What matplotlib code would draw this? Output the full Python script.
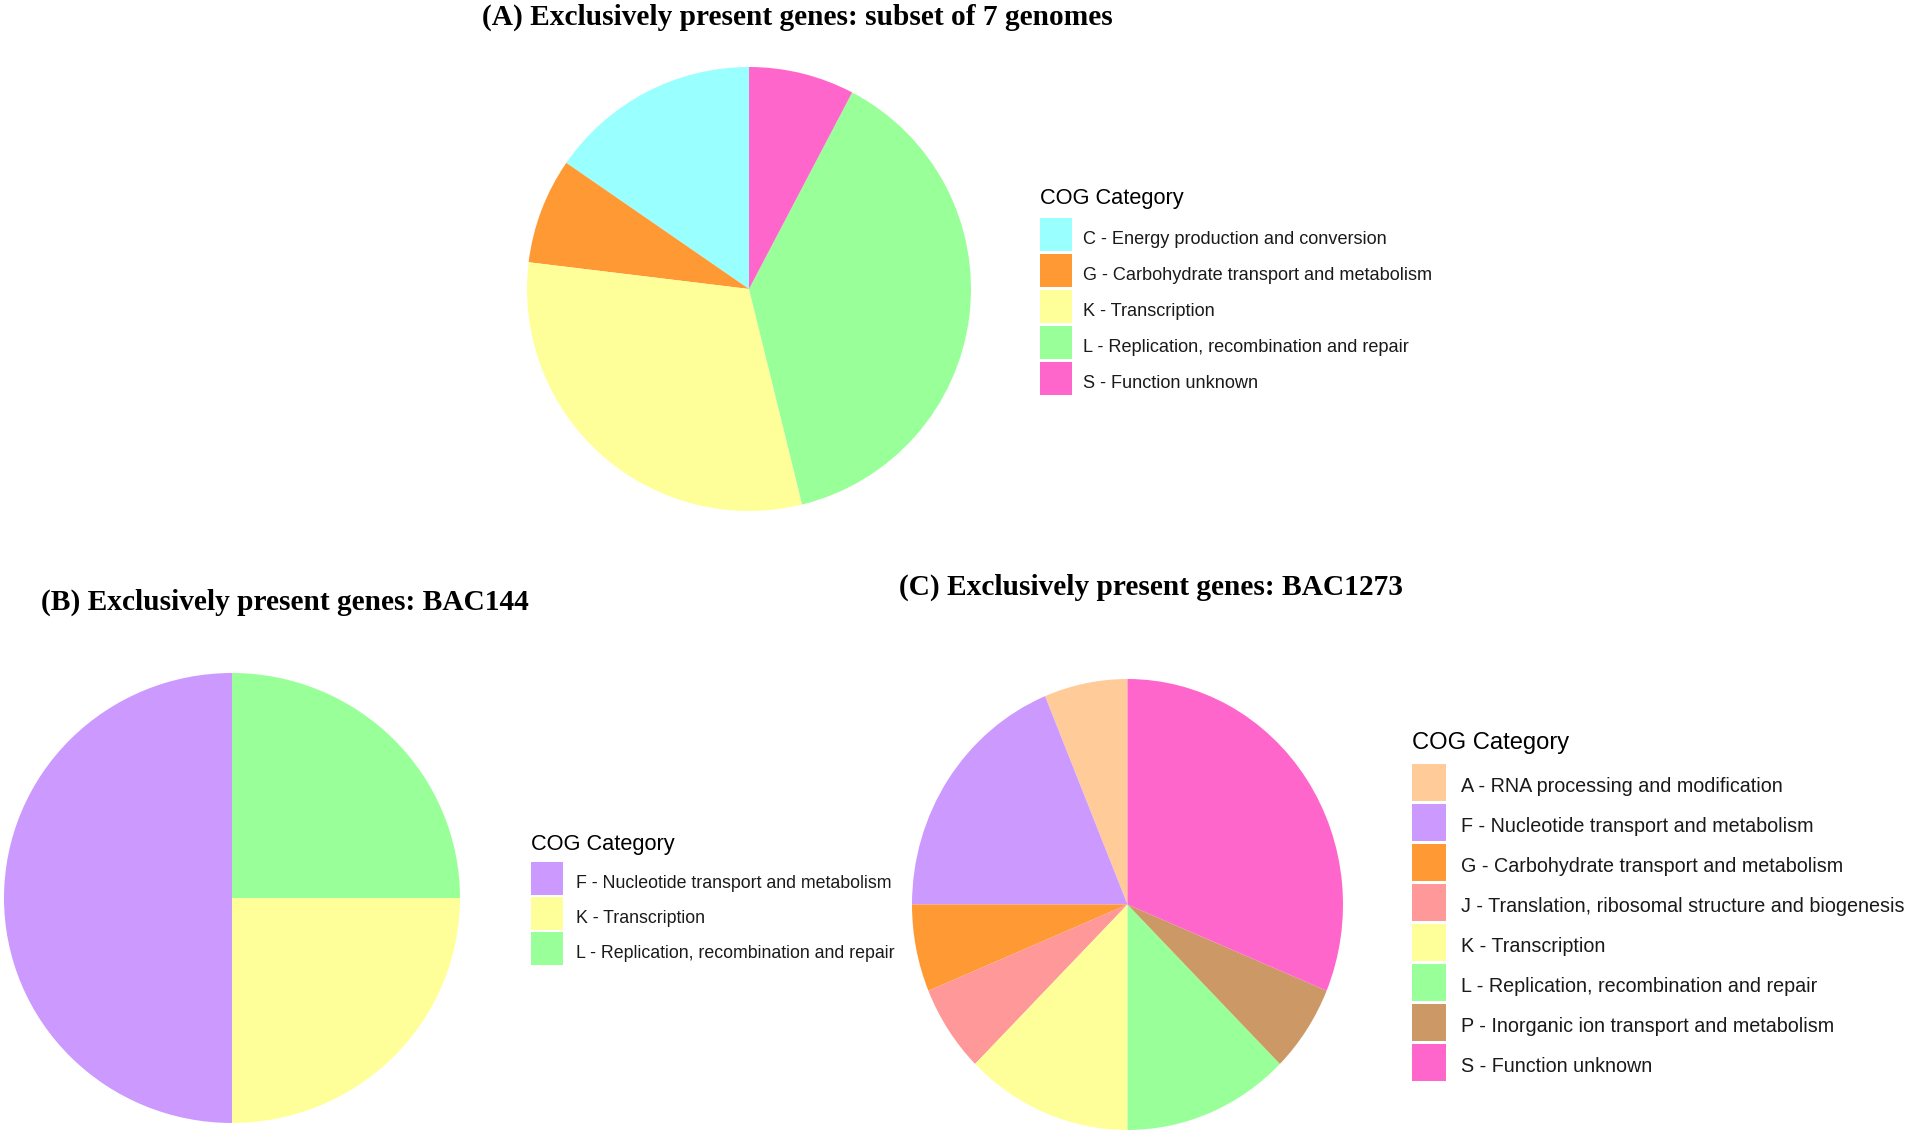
import matplotlib
matplotlib.use('Agg')
import matplotlib.pyplot as plt
from matplotlib.patches import Patch, Rectangle
from matplotlib.legend_handler import HandlerPatch

W, H = 1907, 1132
DPI = 100

# ---- data (gene counts per COG category) ----
cats_a = ['C - Energy production and conversion',
          'G - Carbohydrate transport and metabolism',
          'K - Transcription',
          'L - Replication, recombination and repair',
          'S - Function unknown']
vals_a = [2, 1, 4, 5, 1]
cols_a = ['#99FFFF', '#FF9933', '#FFFF99', '#99FF99', '#FF66CC']

cats_b = ['F - Nucleotide transport and metabolism',
          'K - Transcription',
          'L - Replication, recombination and repair']
vals_b = [2, 1, 1]
cols_b = ['#CC99FF', '#FFFF99', '#99FF99']

cats_c = ['A - RNA processing and modification',
          'F - Nucleotide transport and metabolism',
          'G - Carbohydrate transport and metabolism',
          'J - Translation, ribosomal structure and biogenesis',
          'K - Transcription',
          'L - Replication, recombination and repair',
          'P - Inorganic ion transport and metabolism',
          'S - Function unknown']
vals_c = [1, 3, 1, 1, 2, 2, 1, 5]
cols_c = ['#FFCC99', '#CC99FF', '#FF9933', '#FF9999', '#FFFF99', '#99FF99', '#CC9966', '#FF66CC']


class FullKey(HandlerPatch):
    # ggplot-like square key, taller than the text row
    def __init__(self, ratio, **kw):
        super().__init__(**kw)
        self.ratio = ratio

    def create_artists(self, legend, orig_handle, xdescent, ydescent,
                       width, height, fontsize, trans):
        p = Rectangle((-xdescent, -ydescent), width, self.ratio * fontsize)
        self.update_prop(p, orig_handle, legend)
        p.set_transform(trans)
        return [p]


def pie_panel(fig, cx, cy, rx, ry, vals, cols):
    ax = fig.add_axes([(cx - rx) / W, 1 - (cy + ry) / H, 2 * rx / W, 2 * ry / H])
    ax.pie(vals, colors=cols, startangle=90, counterclock=True, radius=1,
           wedgeprops=dict(linewidth=0, antialiased=True))
    ax.set_xlim(-1, 1)
    ax.set_ylim(-1, 1)
    ax.set_aspect('auto')
    ax.axis('off')
    return ax


def cog_legend(fig, x, y_bottom, cats, cols, fs_pt, title_pt, key_w, key_h, pitch, pad, d, title_gap):
    fs = fs_pt * DPI / 72.0
    hh = d / (0.35 * fs) + 0.7
    h_box = fs * hh - d
    handles = [Patch(facecolor=c, edgecolor='none') for c in cols]
    leg = fig.legend(handles, cats, loc='lower left',
                     bbox_to_anchor=(x / W, 1 - y_bottom / H), bbox_transform=fig.transFigure,
                     frameon=False, borderpad=0, borderaxespad=0,
                     fontsize=fs_pt, title='COG Category', title_fontsize=title_pt,
                     alignment='left', handlelength=key_w / fs, handleheight=hh,
                     labelspacing=(pitch - h_box) / fs, handletextpad=pad / fs,
                     handler_map={Patch: FullKey(key_h / fs)})
    # a bit more room between the title and the keys
    leg._legend_box.sep += title_gap * 72.0 / DPI
    for t in leg.get_texts():
        t.set_color('#1a1a1a')
    return leg


plt.rcParams['font.family'] = ['Liberation Sans', 'DejaVu Sans']
fig = plt.figure(figsize=(W / DPI, H / DPI), dpi=DPI)
fig.patch.set_facecolor('white')

# panel A
pie_panel(fig, 749, 289, 222, 222, vals_a, cols_a)
cog_legend(fig, 1040, 395, cats_a, cols_a, 13.1, 15.7, 32, 33, 36, 11, 7, 6)
fig.text(482 / W, 1 - 25 / H, '(A) Exclusively present genes: subset of 7 genomes',
         family='Liberation Serif', weight='bold', fontsize=21.2,
         ha='left', va='baseline')

# panel B
pie_panel(fig, 232, 898, 228, 225, vals_b, cols_b)
cog_legend(fig, 531, 965, cats_b, cols_b, 12.8, 15.7, 32, 33, 35, 13, 7, 5)
fig.text(41 / W, 1 - 610 / H, '(B) Exclusively present genes: BAC144',
         family='Liberation Serif', weight='bold', fontsize=21.2,
         ha='left', va='baseline')

# panel C
pie_panel(fig, 1127.5, 904.5, 215.5, 225.5, vals_c, cols_c)
cog_legend(fig, 1412, 1081, cats_c, cols_c, 14.2, 17.1, 34, 37, 40, 15, 9, 7)
fig.text(899 / W, 1 - 595 / H, '(C) Exclusively present genes: BAC1273',
         family='Liberation Serif', weight='bold', fontsize=21.2,
         ha='left', va='baseline')

fig.savefig('out.png', dpi=DPI)
